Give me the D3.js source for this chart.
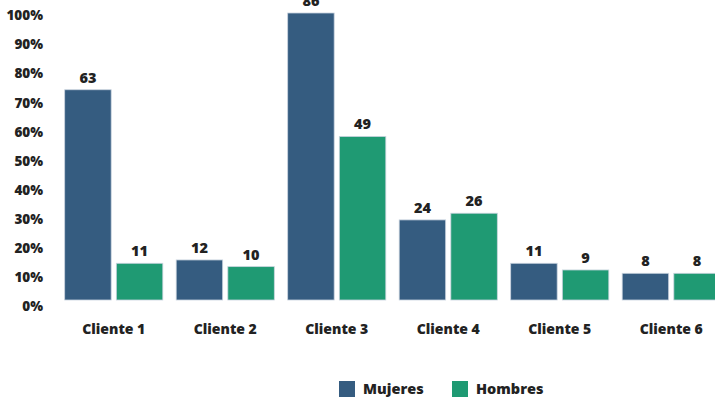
<!DOCTYPE html>
<html>
<head>
<meta charset="utf-8">
<script src="https://cdn.jsdelivr.net/npm/d3@7"></script>
<style>
  html, body { margin: 0; padding: 0; background: #ffffff; }
  svg { display: block; font-family: "Open Sans", "DejaVu Sans", sans-serif; }
</style>
</head>
<body>
<svg id="chart" width="715" height="400"></svg>
<script>
const categories = ["Cliente 1", "Cliente 2", "Cliente 3", "Cliente 4", "Cliente 5", "Cliente 6"];
const seriesNames = ["Mujeres", "Hombres"];
const mujeres = [63, 12, 86, 24, 11, 8];
const hombres = [11, 10, 49, 26, 9, 8];
const yTickLabels = ["0%", "10%", "20%", "30%", "40%", "50%", "60%", "70%", "80%", "90%", "100%"];
const colors = ["#355c80", "#1f9a73"];

const svg = d3.select("#chart");
const data = categories.map((c, i) => ({ cat: c, values: [mujeres[i], hombres[i]] }));

const x0 = d3.scaleBand().domain(categories).range([58, 727]).paddingInner(0.12).paddingOuter(0.06);
const x1 = d3.scaleBand().domain(seriesNames).range([0, x0.bandwidth()]).paddingInner(0.1);
const y = d3.scaleLinear().domain([0, 86]).range([300, 13]);
const yPct = d3.scaleLinear().domain([0, yTickLabels.length - 1]).range([306, 15]);
const color = d3.scaleOrdinal().domain(seriesNames).range(colors);

const font = "'Open Sans', 'DejaVu Sans', sans-serif";

// Y axis (labels only)
const yAxis = d3.axisLeft(yPct)
  .tickValues(d3.range(yTickLabels.length))
  .tickFormat(i => yTickLabels[i])
  .tickSize(0).tickPadding(0);
const gy = svg.append("g").attr("transform", "translate(43,0)").call(yAxis);
gy.select(".domain").remove();
gy.selectAll("text")
  .attr("fill", "#222")
  .style("font-size", "13.5px")
  .style("font-weight", "800")
  .style("font-family", font)
  .attr("dy", "0.35em");

// Bars
const groups = svg.append("g").selectAll("g").data(data).join("g")
  .attr("transform", d => `translate(${x0(d.cat)},0)`);

groups.selectAll("rect")
  .data(d => d.values.map((v, j) => ({ key: seriesNames[j], v })))
  .join("rect")
  .attr("x", d => x1(d.key))
  .attr("y", d => y(d.v))
  .attr("width", x1.bandwidth())
  .attr("height", d => y(0) - y(d.v))
  .attr("fill", d => color(d.key))
  .attr("stroke", "#c9d3de")
  .attr("stroke-width", 0.8);

groups.selectAll("text.val")
  .data(d => d.values.map((v, j) => ({ key: seriesNames[j], v })))
  .join("text")
  .attr("class", "val")
  .attr("x", d => x1(d.key) + x1.bandwidth() / 2)
  .attr("y", d => y(d.v) - 7)
  .attr("text-anchor", "middle")
  .attr("fill", "#222")
  .style("font-size", "14.5px")
  .style("font-weight", "800")
  .style("font-family", font)
  .text(d => d.v);

// X axis (labels only)
const xAxis = d3.axisBottom(x0).tickSize(0).tickPadding(0);
const gx = svg.append("g").attr("transform", "translate(0,329)").call(xAxis);
gx.select(".domain").remove();
gx.selectAll("text")
  .attr("fill", "#222")
  .attr("dy", "0.35em")
  .style("font-size", "14px")
  .style("font-weight", "800")
  .style("font-family", font);

// Legend
const legendX = d3.scaleOrdinal().domain(seriesNames).range([339, 452]);
const legend = svg.append("g").selectAll("g").data(seriesNames).join("g")
  .attr("transform", d => `translate(${legendX(d)},381)`);
legend.append("rect")
  .attr("width", 16).attr("height", 16)
  .attr("fill", d => color(d));
legend.append("text")
  .attr("x", 24).attr("y", 8).attr("dy", "0.35em")
  .attr("fill", "#222")
  .style("font-size", "14.5px")
  .style("font-weight", "800")
  .style("font-family", font)
  .text(d => d);
</script>
</body>
</html>
